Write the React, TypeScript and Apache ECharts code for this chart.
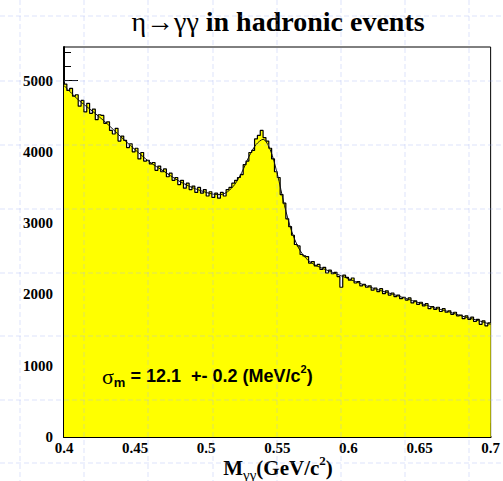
import React, { useEffect, useRef } from "react";
import * as echarts from "echarts";

// Di-photon invariant mass histogram: 150 bins of 2 MeV from 0.400 to 0.700 GeV
const binLow = 0.4;
const binWidth = 0.002;
const counts = [
  4950, 4860, 4890, 4780, 4800,
  4640, 4720, 4560, 4680, 4540,
  4600, 4450, 4520, 4510, 4400,
  4420, 4300, 4250, 4330, 4150,
  4220, 4160, 4060, 4110, 4000,
  4050, 3900, 3990, 3870, 3880,
  3830, 3850, 3740, 3800, 3720,
  3760, 3650, 3700, 3600, 3640,
  3540, 3600, 3490, 3560, 3470,
  3520, 3430, 3500, 3420, 3470,
  3380, 3440, 3360, 3420, 3350,
  3430, 3380, 3470, 3500, 3560,
  3600, 3640, 3680, 3820, 3870,
  3990, 4020, 4180, 4230, 4300,
  4200, 4150, 4050, 3900, 3720,
  3640, 3400, 3280, 3060, 2950,
  2830, 2700, 2680, 2560, 2540,
  2530, 2440, 2460, 2400, 2420,
  2350, 2380, 2300, 2340, 2290,
  2310, 2250, 2100, 2270, 2240,
  2200, 2230, 2160, 2180, 2120,
  2140, 2100, 2120, 2060, 2090,
  2040, 2080, 2010, 2050, 1990,
  2020, 1970, 1990, 1940, 1960,
  1920, 1950, 1880, 1910, 1860,
  1890, 1840, 1870, 1800, 1830,
  1790, 1820, 1760, 1800, 1750,
  1770, 1720, 1750, 1700, 1710,
  1660, 1700, 1650, 1680, 1620,
  1650, 1580, 1630, 1560, 1600,
];

// Fitted signal + background curve
const fitMass = [
  0.4, 0.41, 0.42, 0.43, 0.44, 0.45, 0.46, 0.47, 0.48, 0.49, 0.5, 0.505, 0.51,
  0.515, 0.52, 0.525, 0.53, 0.535, 0.54, 0.545, 0.55, 0.555, 0.56, 0.565, 0.57,
  0.575, 0.58, 0.59, 0.6, 0.61, 0.62, 0.63, 0.64, 0.65, 0.66, 0.67, 0.68, 0.69, 0.7,
];
const fitCounts = [
  4930, 4730, 4570, 4400, 4210, 4030, 3860, 3730, 3600, 3500, 3430, 3405, 3400,
  3440, 3540, 3710, 3930, 4100, 4175, 4030, 3690, 3250, 2890, 2650, 2510,
  2430, 2380, 2300, 2220, 2140, 2070, 2010, 1945, 1880, 1815, 1760, 1695, 1640, 1580,
];

const xTicks = [0.4, 0.45, 0.5, 0.55, 0.6, 0.65, 0.7];
const xMinorTicks = [0.425, 0.475, 0.525, 0.575, 0.625, 0.675];
const yTicks = [0, 1000, 2000, 3000, 4000, 5000];
const yMinorTicks = [
  200, 400, 600, 800, 1200, 1400, 1600, 1800, 2200, 2400, 2600, 2800,
  3200, 3400, 3600, 3800, 4200, 4400, 4600, 4800, 5200, 5400,
];
const yMax = 5470;

// Page backdrop: dashed lattice
const backdropXs = [20, 84, 148, 213, 277, 341, 405, 469];
const backdropYs = [16, 81, 145, 209, 273, 336, 400, 463];

const W = 503;
const H = 481;

export default function App() {
  const ref = useRef<HTMLDivElement>(null);

  useEffect(() => {
    document.body.style.margin = "0";
    if (!ref.current) return;
    const chart = echarts.init(ref.current, null, { renderer: "svg" });

    const histData: [number, number][] = counts.map((c, i) => [
      +(binLow + i * binWidth).toFixed(3),
      c,
    ]);
    histData.push([+(binLow + counts.length * binWidth).toFixed(3), counts[counts.length - 1]]);
    const fitData = fitMass.map((m, i) => [m, fitCounts[i]]);

    const serif = "'Liberation Serif', 'DejaVu Serif', serif";
    const sans = "'Liberation Sans', Arial, sans-serif";
    const dashColor = "rgba(165,180,245,0.38)";
    const dash = [5, 3];

    const backdrop: any[] = [];
    backdropXs.forEach((x) =>
      backdrop.push({
        type: "line",
        z: 100,
        silent: true,
        shape: { x1: x, y1: 0, x2: x, y2: H },
        style: { stroke: dashColor, lineWidth: 1, lineDash: dash },
      })
    );
    backdropYs.forEach((y) =>
      backdrop.push({
        type: "line",
        z: 100,
        silent: true,
        shape: { x1: 0, y1: y, x2: W, y2: y },
        style: { stroke: dashColor, lineWidth: 1, lineDash: dash },
      })
    );

    const labelFont = { fontFamily: serif, fontWeight: "bold" as const, fontSize: 15, color: "#000" };

    chart.setOption({
      animation: false,
      backgroundColor: "#fff",
      grid: {
        left: 64,
        top: 47,
        right: 10,
        bottom: 44,
        show: true,
        backgroundColor: "#fff",
        borderColor: "#000",
        borderWidth: 1,
      },
      xAxis: [
        {
          type: "value",
          min: 0.4,
          max: 0.7,
          position: "bottom",
          axisLine: { show: true, onZero: false, lineStyle: { color: "#000", width: 2 } },
          axisTick: { show: true, inside: true, length: 14, customValues: xTicks, lineStyle: { color: "#000" } },
          axisLabel: {
            ...labelFont,
            margin: 3,
            customValues: xTicks,
            formatter: (v: number) => String(+v.toFixed(3)),
          },
          splitLine: { show: false },
        },
        {
          type: "value",
          min: 0.4,
          max: 0.7,
          position: "bottom",
          axisLine: { show: false },
          axisTick: { show: true, inside: true, length: 7, customValues: xMinorTicks, lineStyle: { color: "#000" } },
          axisLabel: { show: false },
          splitLine: { show: false },
        },
      ],
      yAxis: [
        {
          type: "value",
          min: 0,
          max: yMax,
          position: "left",
          axisLine: { show: true, onZero: false, lineStyle: { color: "#000", width: 2 } },
          axisTick: { show: true, inside: true, length: 14, customValues: yTicks, lineStyle: { color: "#000" } },
          axisLabel: {
            ...labelFont,
            margin: 11,
            customValues: yTicks,
            formatter: (v: number) => String(v),
          },
          splitLine: { show: false },
        },
        {
          type: "value",
          min: 0,
          max: yMax,
          position: "left",
          axisLine: { show: false },
          axisTick: { show: true, inside: true, length: 7, customValues: yMinorTicks, lineStyle: { color: "#000" } },
          axisLabel: { show: false },
          splitLine: { show: false },
        },
      ],
      series: [
        {
          type: "line",
          name: "data",
          xAxisIndex: 0,
          yAxisIndex: 0,
          data: histData,
          step: "end",
          showSymbol: false,
          symbol: "none",
          lineStyle: { color: "#000", width: 1.2 },
          areaStyle: { color: "#ffff00", opacity: 1 },
          z: 2,
        },
        {
          type: "line",
          name: "fit",
          xAxisIndex: 0,
          yAxisIndex: 0,
          data: fitData,
          smooth: 0.3,
          showSymbol: false,
          symbol: "none",
          lineStyle: { color: "#111", width: 1 },
          z: 3,
        },
      ],
      graphic: [
        {
          type: "text",
          z: 50,
          x: 278,
          y: 21,
          style: {
            text: "{a|η→γγ}{b| in hadronic events}",
            align: "center",
            verticalAlign: "middle",
            rich: {
              a: { fontFamily: serif, fontSize: 28, fontWeight: "normal", fill: "#000" },
              b: { fontFamily: serif, fontSize: 28, fontWeight: "bold", fill: "#000" },
            },
          },
        },
        {
          type: "text",
          z: 50,
          x: 278,
          y: 468,
          style: {
            text: "{b|M}{s|γγ}{b|(GeV/c}{p|2}{b|)}",
            align: "center",
            verticalAlign: "middle",
            rich: {
              b: { fontFamily: serif, fontSize: 21, fontWeight: "bold", fill: "#000", lineHeight: 28, verticalAlign: "middle" },
              s: { fontFamily: serif, fontSize: 15, fill: "#000", lineHeight: 28, verticalAlign: "bottom" },
              p: { fontFamily: serif, fontSize: 13, fontWeight: "bold", fill: "#000", lineHeight: 28, verticalAlign: "top" },
            },
          },
        },
        {
          type: "text",
          z: 50,
          x: 102,
          y: 376,
          style: {
            text: "{g|σ}{s|m}{b| = 12.1  +- 0.2 (MeV/c}{p|2}{b|)}",
            align: "left",
            verticalAlign: "middle",
            rich: {
              g: { fontFamily: serif, fontSize: 22, fill: "#000", lineHeight: 26, verticalAlign: "middle" },
              s: { fontFamily: sans, fontSize: 13, fontWeight: "bold", fill: "#000", lineHeight: 26, verticalAlign: "bottom" },
              b: { fontFamily: sans, fontSize: 18, fontWeight: "bold", fill: "#000", lineHeight: 26, verticalAlign: "middle" },
              p: { fontFamily: sans, fontSize: 11, fontWeight: "bold", fill: "#000", lineHeight: 26, verticalAlign: "top" },
            },
          },
        },
        ...backdrop,
      ],
    });

    return () => chart.dispose();
  }, []);

  return <div ref={ref} style={{ width: W, height: H }} />;
}
